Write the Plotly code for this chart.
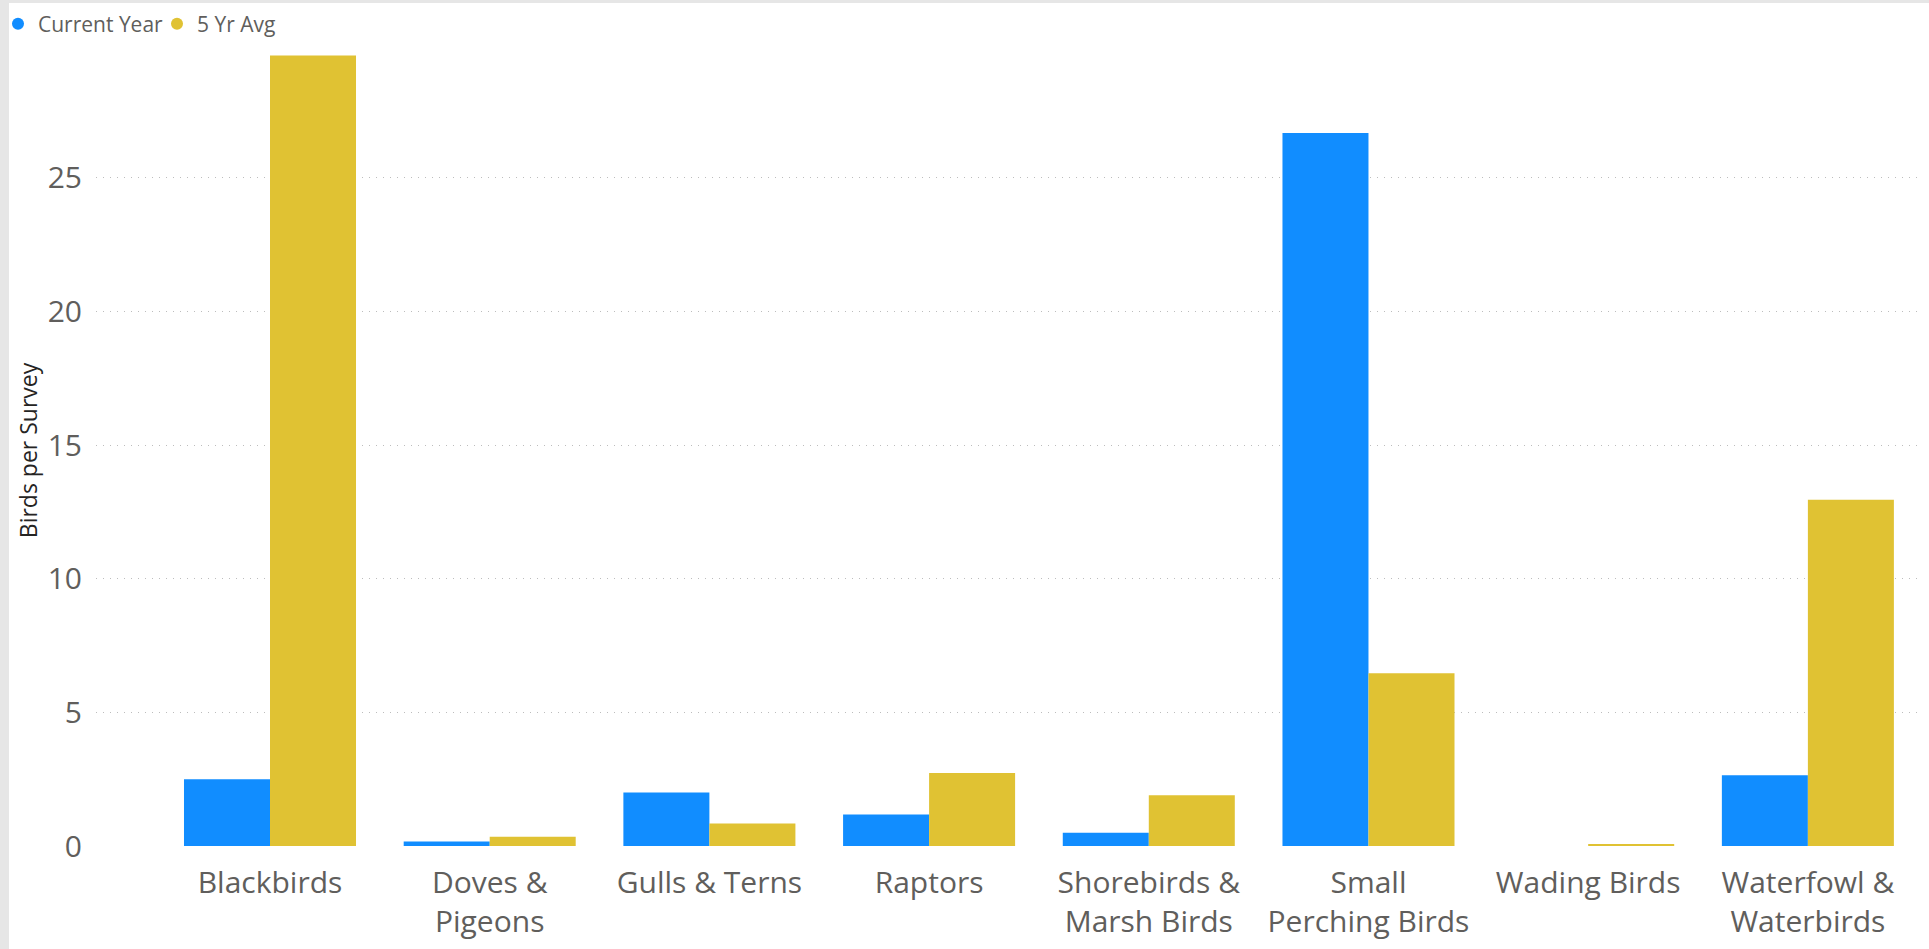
import plotly.graph_objects as go

categories = ["Blackbirds", "Doves &<br>Pigeons", "Gulls & Terns", "Raptors",
              "Shorebirds &<br>Marsh Birds", "Small<br>Perching Birds",
              "Wading Birds", "Waterfowl &<br>Waterbirds"]
current_year = [2.5, 0.17, 2.0, 1.18, 0.5, 26.68, 0.0, 2.65]
five_yr_avg = [29.58, 0.35, 0.84, 2.73, 1.9, 6.46, 0.05, 12.96]
y_ticks = [0, 5, 10, 15, 20, 25]

BLUE = "#118DFF"
GOLD = "#E0C233"
FONT = "Open Sans"

fig = go.Figure()
fig.add_trace(go.Bar(x=categories, y=current_year, name="Current Year",
                     marker=dict(color=BLUE, line=dict(width=0)), showlegend=False))
fig.add_trace(go.Bar(x=categories, y=five_yr_avg, name="5 Yr Avg",
                     marker=dict(color=GOLD, line=dict(width=0)), showlegend=False))
# legend entries with round markers
fig.add_trace(go.Scatter(x=[None], y=[None], mode="markers", name="Current Year",
                         marker=dict(color=BLUE, size=12, symbol="circle")))
fig.add_trace(go.Scatter(x=[None], y=[None], mode="markers", name="5 Yr Avg",
                         marker=dict(color=GOLD, size=12, symbol="circle")))

W, H = 1929, 949
L, R, T, B = 96, 6, 55, 103
pw, ph = W - L - R, H - T - B

fig.update_layout(
    width=W, height=H,
    margin=dict(l=L, r=R, t=T, b=B, pad=0, autoexpand=False),
    paper_bgcolor="#E6E6E6",
    plot_bgcolor="rgba(0,0,0,0)",
    barmode="group", bargap=0.217, bargroupgap=0,
    font=dict(family=FONT, color="#605E5C"),
    showlegend=True,
    legend=dict(orientation="h", x=(-2 - L) / pw, y=(H - B - 3.5) / ph,
                xanchor="left", yanchor="top",
                font=dict(size=21, color="#605E5C", family=FONT),
                itemwidth=30, entrywidth=114, tracegroupgap=0,
                bgcolor="rgba(0,0,0,0)"),
    xaxis=dict(range=[-0.792, 7.524], showgrid=False, zeroline=False,
               showline=False, ticks="", tickfont=dict(size=30, color="#605E5C"),
               ticklabelstandoff=16, fixedrange=True),
    yaxis=dict(range=[0, 29.6], tickvals=y_ticks, showgrid=True,
               gridcolor="#BDBDBD", griddash="1px,6px", gridwidth=1,
               zeroline=False, showline=False, ticks="",
               tickfont=dict(size=30, color="#605E5C"), ticklabelstandoff=13,
               title=dict(text="Birds per Survey", font=dict(size=23, color="#252423"),
                          standoff=3),
               fixedrange=True),
    shapes=[dict(type="rect", xref="paper", yref="paper", layer="below",
                 x0=(9 - L) / pw, x1=(W - L + 5) / pw,
                 y0=-(B + 5) / ph, y1=(H - B - 3) / ph,
                 fillcolor="white", line=dict(width=0))],
)

fig.write_html("out.html", config={"displayModeBar": False},
               post_script="document.body.style.margin='0';")
